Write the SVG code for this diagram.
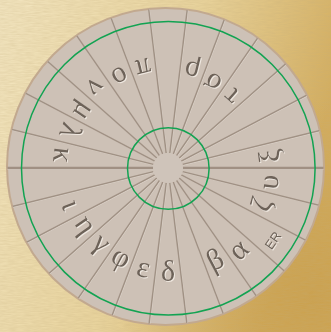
<svg xmlns="http://www.w3.org/2000/svg" width="331" height="332" viewBox="0 0 331 332">
<defs>
<linearGradient id="bg" x1="0" y1="0" x2="1" y2="0.3">
<stop offset="0" stop-color="#f5e8c4"/>
<stop offset="0.55" stop-color="#ebd69f"/>
<stop offset="1" stop-color="#d4ad5c"/>
</linearGradient>
<radialGradient id="bg2" cx="0.95" cy="0.9" r="0.6">
<stop offset="0" stop-color="#c99d48" stop-opacity="0.8"/>
<stop offset="1" stop-color="#c99d48" stop-opacity="0"/>
</radialGradient>
<filter id="tex" x="0" y="0" width="1" height="1">
<feTurbulence type="fractalNoise" baseFrequency="0.12 0.9" numOctaves="2" seed="3"/>
<feColorMatrix type="matrix" values="0 0 0 0 0.55  0 0 0 0 0.42  0 0 0 0 0.2  0 0 0 0.35 0"/>
</filter>
<clipPath id="discClip"><circle cx="165.5" cy="166.5" r="158"/></clipPath>
<filter id="eng" x="-20%" y="-20%" width="140%" height="140%">
<feOffset in="SourceAlpha" dx="0.8" dy="0.8" result="o"/>
<feFlood flood-color="#efe8e0"/>
<feComposite in2="o" operator="in" result="hl"/>
<feMerge><feMergeNode in="hl"/><feMergeNode in="SourceGraphic"/></feMerge>
</filter>
<line id="ray" x1="15" y1="0" x2="175" y2="0"/>
</defs>
<style>
.disc{fill:#cdc1b6;stroke:#c2a98f;stroke-width:2}
.ray{stroke:#a09184;stroke-width:1.4}
.rayhl{stroke:#ddd4cb;stroke-width:0.8}
.hz{stroke:#a09083;stroke-width:2.6}
.green{fill:none;stroke:#12a352;stroke-width:1.5}
.g{font-family:"Liberation Serif","DejaVu Serif",serif;font-size:30px;fill:#6d6258;text-anchor:middle}
.er{font-family:"Liberation Sans","DejaVu Sans",sans-serif;font-size:13px;fill:#6d6258;text-anchor:middle}
</style>
<rect width="331" height="332" fill="url(#bg)"/>
<rect width="331" height="332" fill="url(#bg2)"/>
<rect width="331" height="332" filter="url(#tex)"/>

<g id="disc">
<circle class="disc" cx="165.5" cy="166.5" r="158.5"/>
</g>

<g id="connectors" clip-path="url(#discClip)">
<g transform="translate(168.7,168.7)" class="rayhl">
<use href="#ray" transform="rotate(13.846)"/><use href="#ray" transform="rotate(27.692)"/><use href="#ray" transform="rotate(41.538)"/><use href="#ray" transform="rotate(55.385)"/><use href="#ray" transform="rotate(69.231)"/><use href="#ray" transform="rotate(83.077)"/><use href="#ray" transform="rotate(96.923)"/><use href="#ray" transform="rotate(110.769)"/><use href="#ray" transform="rotate(124.615)"/><use href="#ray" transform="rotate(138.462)"/><use href="#ray" transform="rotate(152.308)"/><use href="#ray" transform="rotate(166.154)"/><use href="#ray" transform="rotate(193.846)"/><use href="#ray" transform="rotate(207.692)"/><use href="#ray" transform="rotate(221.538)"/><use href="#ray" transform="rotate(235.385)"/><use href="#ray" transform="rotate(249.231)"/><use href="#ray" transform="rotate(263.077)"/><use href="#ray" transform="rotate(276.923)"/><use href="#ray" transform="rotate(290.769)"/><use href="#ray" transform="rotate(304.615)"/><use href="#ray" transform="rotate(318.462)"/><use href="#ray" transform="rotate(332.308)"/><use href="#ray" transform="rotate(346.154)"/>
</g>
<g transform="translate(168,168)" class="ray">
<use href="#ray" transform="rotate(13.846)"/><use href="#ray" transform="rotate(27.692)"/><use href="#ray" transform="rotate(41.538)"/><use href="#ray" transform="rotate(55.385)"/><use href="#ray" transform="rotate(69.231)"/><use href="#ray" transform="rotate(83.077)"/><use href="#ray" transform="rotate(96.923)"/><use href="#ray" transform="rotate(110.769)"/><use href="#ray" transform="rotate(124.615)"/><use href="#ray" transform="rotate(138.462)"/><use href="#ray" transform="rotate(152.308)"/><use href="#ray" transform="rotate(166.154)"/><use href="#ray" transform="rotate(193.846)"/><use href="#ray" transform="rotate(207.692)"/><use href="#ray" transform="rotate(221.538)"/><use href="#ray" transform="rotate(235.385)"/><use href="#ray" transform="rotate(249.231)"/><use href="#ray" transform="rotate(263.077)"/><use href="#ray" transform="rotate(276.923)"/><use href="#ray" transform="rotate(290.769)"/><use href="#ray" transform="rotate(304.615)"/><use href="#ray" transform="rotate(318.462)"/><use href="#ray" transform="rotate(332.308)"/><use href="#ray" transform="rotate(346.154)"/>
</g>
<line x1="0" y1="169.4" x2="153" y2="169.4" stroke="#ddd4cb" stroke-width="1"/>
<line x1="183" y1="169.4" x2="331" y2="169.4" stroke="#ddd4cb" stroke-width="1"/>
<line class="hz" x1="0" y1="168" x2="153" y2="168"/>
<line class="hz" x1="183" y1="168" x2="331" y2="168"/>
</g>

<g id="hub">
<circle cx="168" cy="168" r="15" fill="#cfc4ba"/>
</g>
<g id="inner-ring"><circle class="green" cx="168.3" cy="168.5" r="40.8"/></g>
<g id="outer-ring"><circle class="green" cx="168.3" cy="168.3" r="146.8"/></g>

<g id="letters" filter="url(#eng)">
<g id="l-xi" transform="translate(270.2,156) rotate(-96.92)"><text class="g" y="9">ξ</text></g>
<g id="l-upsilon" transform="translate(269.3,182) rotate(-83.08)"><text class="g" y="9">υ</text></g>
<g id="l-zeta" transform="translate(264.5,205.5) rotate(-69.23)"><text class="g" y="6">ζ</text></g>
<g id="l-er" transform="translate(273,240.5) rotate(-55.38)"><text class="er" y="4.5">ER</text></g>
<g id="l-alpha" transform="translate(238.6,249.8) rotate(-41.54)"><text class="g" y="9">α</text></g>
<g id="l-beta" transform="translate(216.3,261.9) rotate(-27.69)"><text class="g" y="7">β</text></g>
<g id="l-delta" transform="translate(168,271) rotate(0)"><text class="g" y="10">δ</text></g>
<g id="l-epsilon" transform="translate(143.4,268) rotate(13.85)"><text class="g" y="9">ε</text></g>
<g id="l-phi" transform="translate(120.1,259.2) rotate(27.69)"><text class="g" y="7">φ</text></g>
<g id="l-gamma" transform="translate(99,245.8) rotate(41.54)"><text class="g" y="5">γ</text></g>
<g id="l-eta" transform="translate(82.4,227.1) rotate(55.38)"><text class="g" y="5">η</text></g>
<g id="l-iota" transform="translate(70.8,204.9) rotate(69.23)"><text class="g" y="9">ι</text></g>
<g id="l-kappa" transform="translate(62.8,155.2) rotate(96.92)"><text class="g" y="9">κ</text></g>
<g id="l-lambda" transform="translate(70.8,131.1) rotate(110.77)"><text class="g" y="10">λ</text></g>
<g id="l-mu" transform="translate(81.4,110) rotate(124.62)"><text class="g" y="6">μ</text></g>
<g id="l-nu" transform="translate(95.4,87.2) rotate(138.46)"><text class="g" y="9">ν</text></g>
<g id="l-omicron" transform="translate(120.1,76.8) rotate(152.31)"><text class="g" y="9">ο</text></g>
<g id="l-pi" transform="translate(143.4,68) rotate(166.15)"><text class="g" y="9">π</text></g>
<g id="l-rho" transform="translate(192.6,68) rotate(193.85)"><text class="g" y="6">ρ</text></g>
<g id="l-sigma" transform="translate(212.6,82.6) rotate(207.69)"><text class="g" y="9">σ</text></g>
<g id="l-tau" transform="translate(231.2,96.6) rotate(221.54)"><text class="g" y="9">τ</text></g>
</g>
</svg>
